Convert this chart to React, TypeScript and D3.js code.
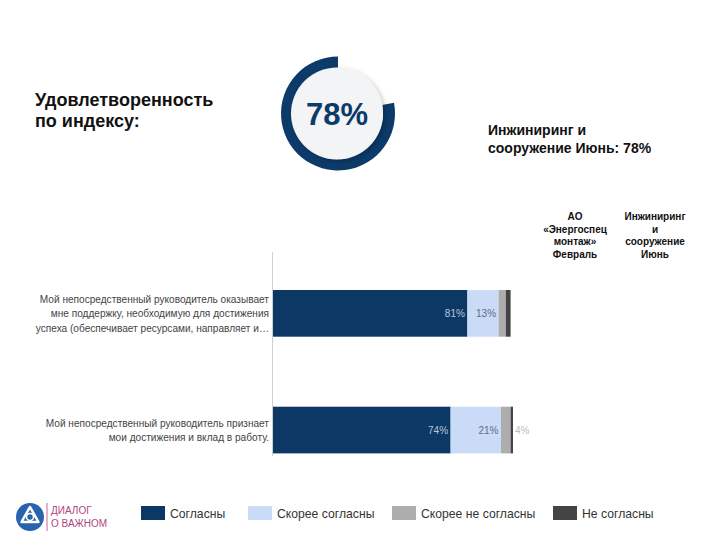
import React from "react";
import * as d3 from "d3";

const categories = [
  ["Мой непосредственный руководитель оказывает", "мне поддержку, необходимую для достижения", "успеха (обеспечивает ресурсами, направляет и…"],
  ["Мой непосредственный руководитель признает", "мои достижения и вклад в работу."],
];
const seriesNames = ["Согласны", "Скорее согласны", "Скорее не согласны", "Не согласны"];
const seriesColors = ["#0c3866", "#c9dbf6", "#adadad", "#444444"];
const agree = [81, 74];
const ratherAgree = [13, 21];
const ratherDisagree = [3, 4];
const disagree = [2, 1];
const indexValue = 78;
const titleLines = ["Удовлетворенность", "по индексу:"];
const rightLines = ["Инжиниринг и", "сооружение Июнь: 78%"];
const colHeader1 = ["АО", "«Энергоспец", "монтаж»", "Февраль"];
const colHeader2 = ["Инжиниринг", "и", "сооружение", "Июнь"];

const FONT = "'Liberation Sans', Arial, sans-serif";

export default function App() {
  const rows = categories.map((c, i) => ({
    key: String(i),
    s0: agree[i],
    s1: ratherAgree[i],
    s2: ratherDisagree[i],
    s3: disagree[i],
  }));
  const keys = ["s0", "s1", "s2", "s3"];
  const stacked = d3.stack<any>().keys(keys)(rows);
  const x = d3.scaleLinear().domain([0, 100]).range([273, 513]);
  const y = d3
    .scaleBand()
    .domain(rows.map((r) => r.key))
    .range([255, 488.4])
    .paddingInner(0.6)
    .paddingOuter(0.3);

  const labelColors = ["#b9c5d6", "#5d6e86", "#bdbdbd", "#bdbdbd"];

  // donut
  const cx = 338, cy = 113.5;
  const ringArc = d3
    .arc()
    .innerRadius(45)
    .outerRadius(57)
    .startAngle(((100 - indexValue) / 100) * 2 * Math.PI)
    .endAngle(2 * Math.PI);

  return (
    <svg
      width={720}
      height={540}
      style={{ position: "absolute", left: 0, top: 0, background: "#fff" }}
      fontFamily={FONT}
    >
      <defs>
        <filter id="sh" x="-30%" y="-30%" width="160%" height="160%">
          <feDropShadow dx="2" dy="2" stdDeviation="2.5" floodColor="#000" floodOpacity="0.25" />
        </filter>
      </defs>

      {/* title */}
      {titleLines.map((t, i) => (
        <text key={i} x={35} y={106 + i * 21} fontSize={18} fontWeight="bold" fill="#111">
          {t}
        </text>
      ))}

      {/* donut */}
      <path d={ringArc(null as any) as string} transform={`translate(${cx},${cy})`} fill="#0c3b6a" />
      <circle cx={cx - 1} cy={cy} r={46} fill="#f3f4f6" filter="url(#sh)" />
      <text x={cx - 1} y={cy + 11} textAnchor="middle" fontSize={31} fontWeight="bold" fill="#0c3b6a">
        {indexValue}%
      </text>

      {/* right text */}
      {rightLines.map((t, i) => (
        <text key={i} x={488} y={135 + i * 17.5} fontSize={14} fontWeight="bold" fill="#111">
          {t}
        </text>
      ))}

      {/* column headers */}
      {colHeader1.map((t, i) => (
        <text key={"a" + i} x={575} y={220 + i * 12.5} fontSize={10} fontWeight="bold" textAnchor="middle" fill="#111">
          {t}
        </text>
      ))}
      {colHeader2.map((t, i) => (
        <text key={"b" + i} x={655} y={220 + i * 12.5} fontSize={10} fontWeight="bold" textAnchor="middle" fill="#111">
          {t}
        </text>
      ))}

      {/* axis line */}
      <line x1={272.5} x2={272.5} y1={252} y2={456} stroke="#cfcfcf" strokeWidth={1} />

      {/* bars */}
      {stacked.map((layer, si) =>
        layer.map((d, ri) => {
          const r = rows[ri];
          const y0 = y(r.key)!;
          return (
            <rect
              key={si + "-" + ri}
              x={x(d[0])}
              y={y0}
              width={x(d[1]) - x(d[0])}
              height={y.bandwidth()}
              fill={seriesColors[si]}
            />
          );
        })
      )}

      {/* value labels */}
      {stacked.map((layer, si) =>
        layer.map((d, ri) => {
          const v = d[1] - d[0];
          if (v < 4) return null;
          const r = rows[ri];
          const yc = y(r.key)! + y.bandwidth() / 2 + 4;
          const w = x(d[1]) - x(d[0]);
          const outside = w < 20;
          const total = d3.sum(keys, (k) => (r as any)[k]);
          return (
            <text
              key={"l" + si + "-" + ri}
              x={outside ? x(total) + 2 : x(d[1]) - 2.5}
              y={yc}
              fontSize={10}
              textAnchor={outside ? "start" : "end"}
              fill={labelColors[si]}
            >
              {v}%
            </text>
          );
        })
      )}

      {/* category labels */}
      {categories.map((lines, i) => {
        const yc = y(String(i))! + y.bandwidth() / 2;
        const n = lines.length;
        return lines.map((t, j) => (
          <text
            key={"c" + i + "-" + j}
            x={269}
            y={yc + (j - (n - 1) / 2) * 14.5 + 4}
            fontSize={10.1}
            textAnchor="end"
            fill="#444"
          >
            {t}
          </text>
        ));
      })}

      {/* legend */}
      {seriesNames.map((name, i) => {
        const xs = [141, 248, 392, 553][i];
        return (
          <g key={"lg" + i}>
            <rect x={xs} y={506} width={24} height={14} fill={seriesColors[i]} />
            <text x={xs + 29} y={517.5} fontSize={12.2} fill="#333">
              {name}
            </text>
          </g>
        );
      })}

      {/* logo */}
      <circle cx={30} cy={517} r={14} fill="#2a63ad" />
      <path d="M30,507 L38.5,522 L21.5,522 Z" fill="none" stroke="#fff" strokeWidth={2.5} strokeLinejoin="round" />
      <circle cx={30} cy={517} r={3.5} fill="#2a63ad" stroke="#fff" strokeWidth={1.5} />
      <line x1={47} x2={47} y1={503} y2={531} stroke="#c9679a" strokeWidth={1} />
      <text x={51} y={514} fontSize={10} fill="#b2457f">ДИАЛОГ</text>
      <text x={51} y={527} fontSize={10} fill="#b2457f">О ВАЖНОМ</text>
    </svg>
  );
}
